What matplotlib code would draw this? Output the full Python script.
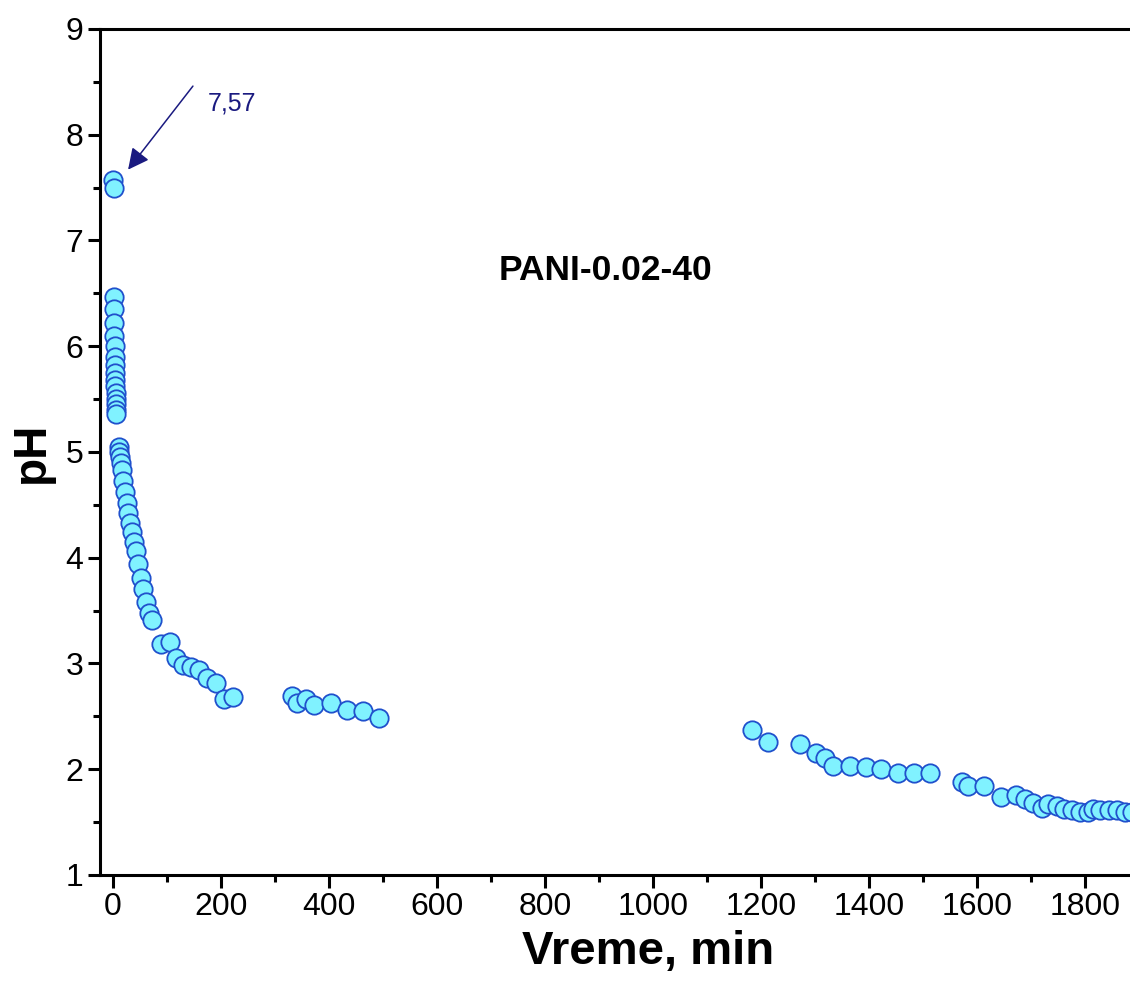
import matplotlib
matplotlib.use("Agg")
import matplotlib.pyplot as plt
from matplotlib.ticker import MultipleLocator

plt.rcParams['font.family'] = ['Liberation Sans', 'DejaVu Sans']

# time (min) and pH values
time_min = [0, 1,
            1, 1.5, 2, 2.5, 3, 3.3, 3.6, 4, 4.3, 4.6, 5, 5.3, 5.6, 6, 6.3,
            11, 12, 13, 14, 16, 18.5, 22, 26, 28, 31, 35, 39, 43, 46, 52, 56, 61, 67, 72,
            89, 106, 117, 130, 144, 159, 174, 191, 206, 222,
            331, 340, 357, 372, 403, 433, 463, 493,
            1183, 1213, 1272, 1302, 1318, 1333, 1365, 1394, 1422, 1454, 1483, 1513,
            1572, 1583, 1613, 1643, 1672, 1689, 1704, 1719, 1731, 1748, 1761, 1776,
            1791, 1804, 1815, 1828, 1843, 1859, 1874, 1886]
ph = [7.57, 7.50,
      6.47, 6.35, 6.22, 6.10, 6.00, 5.90, 5.82, 5.75, 5.68, 5.62, 5.56, 5.50, 5.45, 5.40, 5.36,
      5.05, 5.00, 4.95, 4.90, 4.83, 4.73, 4.62, 4.52, 4.42, 4.33, 4.24, 4.15, 4.06, 3.94, 3.81, 3.70, 3.58, 3.48, 3.41,
      3.18, 3.20, 3.05, 2.99, 2.97, 2.94, 2.86, 2.82, 2.66, 2.68,
      2.69, 2.63, 2.66, 2.61, 2.63, 2.56, 2.55, 2.48,
      2.37, 2.26, 2.24, 2.15, 2.11, 2.03, 2.03, 2.02, 2.00, 1.96, 1.96, 1.96,
      1.88, 1.84, 1.84, 1.74, 1.76, 1.72, 1.68, 1.63, 1.67, 1.65, 1.62, 1.61,
      1.60, 1.60, 1.62, 1.61, 1.61, 1.61, 1.60, 1.60]

x_ticks = [0, 200, 400, 600, 800, 1000, 1200, 1400, 1600, 1800]
y_ticks = [1, 2, 3, 4, 5, 6, 7, 8, 9]
sample_label = "PANI-0.02-40"
peak_label = "7,57"

fig = plt.figure(figsize=(11.3, 9.86), dpi=100)
# the plot area extends past the right edge of the picture (cropped original)
ax = fig.add_axes([0.0885, 0.1126, 0.9700, 0.858])

ax.scatter(time_min, ph, s=175, facecolor='#80F2FF', edgecolor='#2050CC',
           linewidths=1.3, zorder=3, clip_on=True)

ax.set_xlim(-24, 2005)
ax.set_ylim(1, 9)
ax.set_xticks(x_ticks)
ax.set_yticks(y_ticks)
ax.xaxis.set_minor_locator(MultipleLocator(100))
ax.yaxis.set_minor_locator(MultipleLocator(0.5))

ax.spines['right'].set_visible(False)
for sp in ['left', 'bottom', 'top']:
    ax.spines[sp].set_linewidth(2.2)
ax.tick_params(which='major', direction='out', length=9, width=2.2, labelsize=23, pad=3)
ax.tick_params(which='minor', direction='out', length=5, width=2.2)
ax.tick_params(top=False, right=False, which='both')

ax.set_xlabel("Vreme, min", fontsize=34, fontweight='bold', labelpad=6)
ax.set_ylabel("pH", fontsize=33, fontweight='bold', labelpad=8)

ax.text(911, 6.72, sample_label, fontsize=25.5, fontweight='bold', ha='center', va='center')

ax.annotate("", xy=(28, 7.67), xytext=(148, 8.46),
            arrowprops=dict(arrowstyle='-|>', color='#1A1A80', lw=1.1,
                            mutation_scale=32, shrinkA=0, shrinkB=0))
ax.text(176, 8.30, peak_label, fontsize=18, color='#1A1A80', ha='left', va='center')

fig.savefig("out.png", dpi=100)
